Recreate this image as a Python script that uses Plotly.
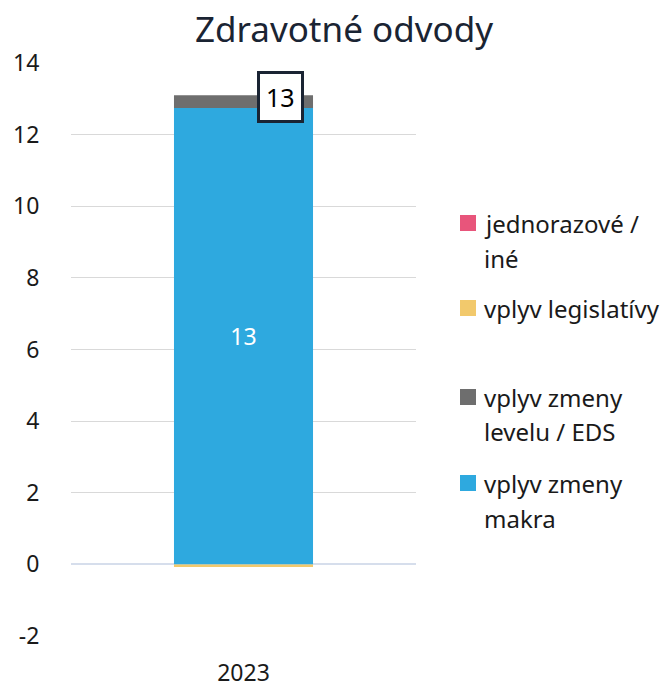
import plotly.graph_objects as go

categories = ["2023"]
series_names = ["jednorazové / iné", "vplyv legislatívy", "vplyv zmeny levelu / EDS", "vplyv zmeny makra"]
legend_lines = [["jednorazové /", "iné"], ["vplyv legislatívy"], ["vplyv zmeny", "levelu / EDS"], ["vplyv zmeny", "makra"]]
jednorazove = [0.0]
legislativa = [-0.07]
level_eds = [0.36]
makra = [12.74]
y_ticks = [-2, 0, 2, 4, 6, 8, 10, 12, 14]
y_tick_labels = ["-2", "0", "2", "4", "6", "8", "10", "12", "14"]

colors = {
    "jednorazové / iné": "#E8557B",
    "vplyv legislatívy": "#F2C96C",
    "vplyv zmeny levelu / EDS": "#6E6E6E",
    "vplyv zmeny makra": "#2EA9DF",
}
values = {
    "jednorazové / iné": jednorazove,
    "vplyv legislatívy": legislativa,
    "vplyv zmeny levelu / EDS": level_eds,
    "vplyv zmeny makra": makra,
}

FONT = "Noto Sans"
TXT = "#1A1A1A"

fig = go.Figure()
for name in ["vplyv zmeny makra", "vplyv zmeny levelu / EDS", "vplyv legislatívy", "jednorazové / iné"]:
    is_main = name == "vplyv zmeny makra"
    fig.add_trace(go.Bar(
        x=categories, y=values[name], name=name,
        marker=dict(color=colors[name], line=dict(width=0)),
        text=[f"{v:.0f}" for v in values[name]] if is_main else None,
        textposition="inside" if is_main else "none",
        insidetextanchor="middle",
        textfont=dict(color="white", size=23, family=FONT),
        showlegend=False,
    ))

total = sum(v[0] for v in values.values())
top = sum(v[0] for v in values.values() if v[0] > 0)

W, H = 671, 687
L, R, T, B = 71, 255, 63, 51
pw, ph = W - L - R, H - T - B

def px2x(px):
    return (px - L) / pw

def py2y(py):
    return (H - B - py) / ph

annotations = [dict(
    x=0, y=top, xref="x", yref="y", xshift=37, yshift=-2,
    text=f"{total:.0f}", showarrow=False,
    font=dict(size=25, color="black", family=FONT),
    bgcolor="white", bordercolor="#1A2433", borderwidth=3, borderpad=6,
    xanchor="center", yanchor="middle",
)]
shapes = []

legend_y = [[223, 258], [308], [397, 431], [483, 518]]
for name, lines, ys in zip(series_names, legend_lines, legend_y):
    shapes.append(dict(
        type="rect", xref="paper", yref="paper",
        x0=px2x(460), x1=px2x(476), y0=py2y(ys[0] + 8), y1=py2y(ys[0] - 8),
        fillcolor=colors[name], line=dict(width=0),
    ))
    for line, yy in zip(lines, ys):
        annotations.append(dict(
            x=px2x(482), y=py2y(yy), xref="paper", yref="paper",
            text=line, showarrow=False, xanchor="left", yanchor="middle",
            font=dict(size=24, color=TXT, family=FONT),
        ))

fig.update_layout(
    width=W, height=H,
    margin=dict(l=L, r=R, t=T, b=B, autoexpand=False),
    barmode="relative",
    bargap=0.597,
    plot_bgcolor="white", paper_bgcolor="white",
    title=dict(text="Zdravotné odvody", x=344 / W, xanchor="center",
               y=1 - 30 / H, yanchor="middle",
               font=dict(size=35, color="#1A2433", family=FONT)),
    yaxis=dict(range=[-2, 14], tickvals=y_ticks, ticktext=y_tick_labels,
               showgrid=True, gridcolor="#D9D9D9",
               gridwidth=1.3, zeroline=True, zerolinecolor="#D6DEEC", zerolinewidth=2,
               tickfont=dict(size=23, color=TXT, family=FONT),
               ticks="outside", ticklen=26, tickcolor="rgba(0,0,0,0)",
               showline=False, fixedrange=True),
    xaxis=dict(tickfont=dict(size=23, color=TXT, family=FONT), showline=False,
               ticks="outside", ticklen=16, tickcolor="rgba(0,0,0,0)",
               type="category", range=[-0.5, 0.5], fixedrange=True),
    annotations=annotations,
    shapes=shapes,
    showlegend=False,
)

fig.write_html("out.html", config={"displayModeBar": False},
               post_script="document.body.style.margin='0';")
